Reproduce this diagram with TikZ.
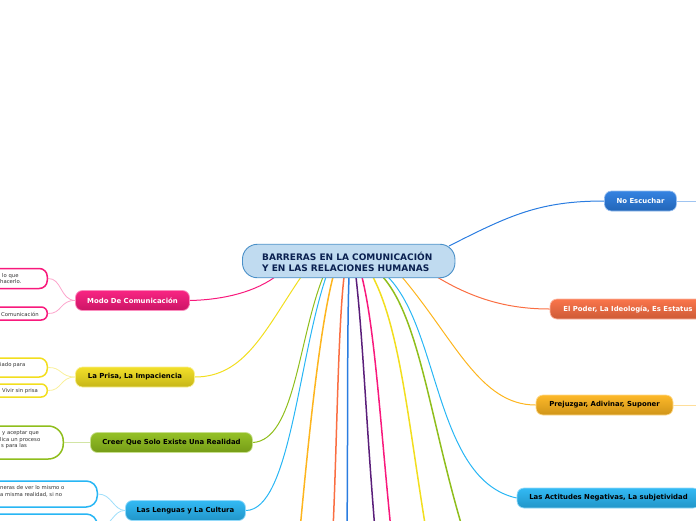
\documentclass[tikz,border=0pt]{standalone}
\usepackage{fontspec}
\setmainfont{DejaVu Sans}
\definecolor{cblue}{HTML}{2A7CE0}
\definecolor{cred}{HTML}{FA6E42}
\definecolor{cyel}{HTML}{FDB51E}
\definecolor{ccyan}{HTML}{28B6F4}
\definecolor{cgreen}{HTML}{8FBE1C}
\definecolor{cpink}{HTML}{F8197C}
\definecolor{cgold}{HTML}{F2DE1E}
\definecolor{cpurple}{HTML}{5A1E7A}
\definecolor{rootfill}{HTML}{C0DBF0}
\definecolor{rootline}{HTML}{4A90C8}
\definecolor{navy}{HTML}{0A2050}
\tikzset{
 x=1pt,y=-1pt,
 rootbox/.style={draw=rootline,line width=.9pt,fill=rootfill,rounded corners=15pt,minimum width=212.5pt,minimum height=33.5pt,inner sep=0pt},
 roottext/.style={font=\bfseries\fontsize{9}{11}\selectfont,text=navy,align=left,inner sep=0pt,anchor=west},
 topic/.style={rounded corners=7pt,minimum height=20pt,inner sep=0pt,font=\bfseries\fontsize{6.9}{8}\selectfont},
 leaf/.style={draw=#1,line width=1.5pt,fill=white,inner sep=0pt,anchor=east},
 leaftext/.style={font=\fontsize{5.3}{6.5}\selectfont,align=left,anchor=west,text=black!80,inner sep=0pt},
 bigl/.style={line width=1.5pt},
 midl/.style={line width=1pt},
 subl/.style={line width=.8pt}
}
\newcommand{\topicnode}[7]{%
 \node[topic,minimum width=#4pt,draw=#5!50,line width=.7pt,top color=#5!95,bottom color=#5!82!black,text=#6] (#1) at (#2,#3) {\raisebox{-0.7pt}{#7}};}
\begin{document}
\begin{tikzpicture}
\useasboundingbox (0,0) rectangle (696,520);
\clip (0,0) rectangle (696,520);
% free ends and start points
\coordinate (e1) at (300,530);
\coordinate (e2) at (333,530);
\coordinate (e3) at (347,530);
\coordinate (e4) at (375,530);
\coordinate (e5) at (391,530);
\coordinate (e6) at (426,530);
\coordinate (e7) at (463,530);
\coordinate (rnoesc) at (449,246);
\coordinate (rpoder) at (437,277);
\coordinate (rprej) at (402,277);
\coordinate (ractit) at (388,277);
\coordinate (rmodo) at (275,277);
\coordinate (rprisa) at (301,277);
\coordinate (rcreer) at (323,277);
\coordinate (rleng) at (326,277);
\coordinate (r1) at (333,277);
\coordinate (r2) at (344,277);
\coordinate (r3) at (349,277);
\coordinate (r4) at (356,277);
\coordinate (r5) at (362,277);
\coordinate (r6) at (373,277);
\coordinate (r7) at (383,277);
\coordinate (noescout) at (696,201);
\coordinate (prejout) at (696,405);
% topics
\topicnode{noesc}{640.5}{201}{72}{cblue}{white}{No Escuchar}
\topicnode{poder}{628}{309}{156}{cred}{white}{El Poder, La Ideología, Es Estatus}
\topicnode{prej}{604.5}{405}{137}{cyel}{black}{Prejuzgar, Adivinar, Suponer}
\topicnode{actit}{608.5}{498}{183}{ccyan}{black}{Las Actitudes Negativas, La subjetividad}
\topicnode{modo}{132.5}{300.5}{114}{cpink}{white}{Modo De Comunicación}
\topicnode{prisa}{135}{377}{119}{cgold}{black}{La Prisa, La Impaciencia}
\topicnode{creer}{171.5}{442.5}{162}{cgreen}{black}{Creer Que Solo Existe Una Realidad}
\topicnode{lenguas}{185.5}{510.5}{120}{ccyan}{black}{Las Lenguas y La Cultura}
% leaves
\node[leaf=cpink,rounded corners=8pt,minimum width=120pt,minimum height=20pt] (m1) at (48,278.5) {};
\node[leaf=cpink,rounded corners=6pt,minimum width=120pt,minimum height=13pt] (m2) at (48,313.5) {};
\node[leaf=cgold,rounded corners=8pt,minimum width=120pt,minimum height=19pt] (p1) at (48,367.5) {};
\node[leaf=cgold,rounded corners=6pt,minimum width=120pt,minimum height=13pt] (p2) at (48,390.5) {};
\node[leaf=cgreen,rounded corners=15pt,minimum width=140pt,minimum height=33pt] (c1) at (64,442.5) {};
\node[leaf=ccyan,rounded corners=11pt,minimum width=150pt,minimum height=26pt] (l1) at (98,494) {};
\node[leaf=ccyan,rounded corners=11pt,minimum width=150pt,minimum height=26pt] (l2) at (98,527) {};
% leaf texts
\node[leaftext] (tm1a) at (2,276) {lo que};
\node[leaftext] (tm1b) at (0,282) {hacerlo.};
\node[leaftext] (tm2) at (1,314) {Comunicación};
\node[leaftext] (tp1) at (0,365) {iado para};
\node[leaftext] (tp2) at (2,391) {Vivir sin prisa};
\node[leaftext] (tc1) at (2,433) {y aceptar que};
\node[leaftext] (tc2) at (0,440) {lica un proceso};
\node[leaftext] (tc3) at (1,446) {s para las};
\node[leaftext] (tl1) at (0,488) {neras de ver lo mismo o};
\node[leaftext] (tl2) at (0,495) {a misma realidad, si no};
% connectors
\draw[midl,cblue] (rnoesc) .. controls (510,215) and (540,201) .. (noesc.west);
\draw[subl,cblue!45] (noesc.east) -- (noescout);
\draw[midl,cred] (rpoder) .. controls (475,300) and (510,309) .. (poder.west);
\draw[midl,cyel] (rprej) .. controls (455,340) and (480,405) .. (prej.west);
\draw[subl,cyel!45] (prej.east) -- (prejout);
\draw[midl,ccyan] (ractit) .. controls (440,330) and (435,480) .. (actit.west);
\draw[midl,cpink] (rmodo) .. controls (250,295) and (215,300) .. (modo.east);
\draw[midl,cgold] (rprisa) .. controls (265,330) and (245,377) .. (prisa.east);
\draw[midl,cgreen] (rcreer) .. controls (298,340) and (295,440) .. (creer.east);
\draw[midl,ccyan] (rleng) .. controls (298,360) and (290,510) .. (lenguas.east);
\draw[bigl,cyel] (r1) .. controls (322,320) and (312,400) .. (e1);
\draw[bigl,cred] (r2) .. controls (338,330) and (337,440) .. (e2);
\draw[bigl,cblue] (r3) .. controls (347,330) and (348,440) .. (e3);
\draw[bigl,cpurple] (r4) .. controls (363,340) and (366,420) .. (e4);
\draw[bigl,cpink] (r5) .. controls (375,330) and (380,420) .. (e5);
\draw[bigl,cgold] (r6) .. controls (400,330) and (408,420) .. (e6);
\draw[bigl,cgreen] (r7) .. controls (420,320) and (430,420) .. (e7);
% sub connectors
\draw[subl,cpink!40] (modo.west) .. controls (60,300) and (62,278) .. (m1.east);
\draw[subl,cpink!40] (modo.west) .. controls (60,300) and (62,314) .. (m2.east);
\draw[subl,cgold!45] (prisa.west) .. controls (60,377) and (62,367) .. (p1.east);
\draw[subl,cgold!45] (prisa.west) .. controls (60,377) and (62,391) .. (p2.east);
\draw[subl,cgreen!40] (creer.west) -- (c1.east);
\draw[subl,ccyan!45] (lenguas.west) .. controls (113,510) and (112,494) .. (l1.east);
\draw[subl,ccyan!45] (lenguas.west) .. controls (113,510) and (112,527) .. (l2.east);
% root
\node[rootbox] (root) at (348.7,261) {};
\node[roottext] (rt) at (262,261.5) {BARRERAS EN LA COMUNICACIÓN\\Y EN LAS RELACIONES HUMANAS};
\end{tikzpicture}
\end{document}
